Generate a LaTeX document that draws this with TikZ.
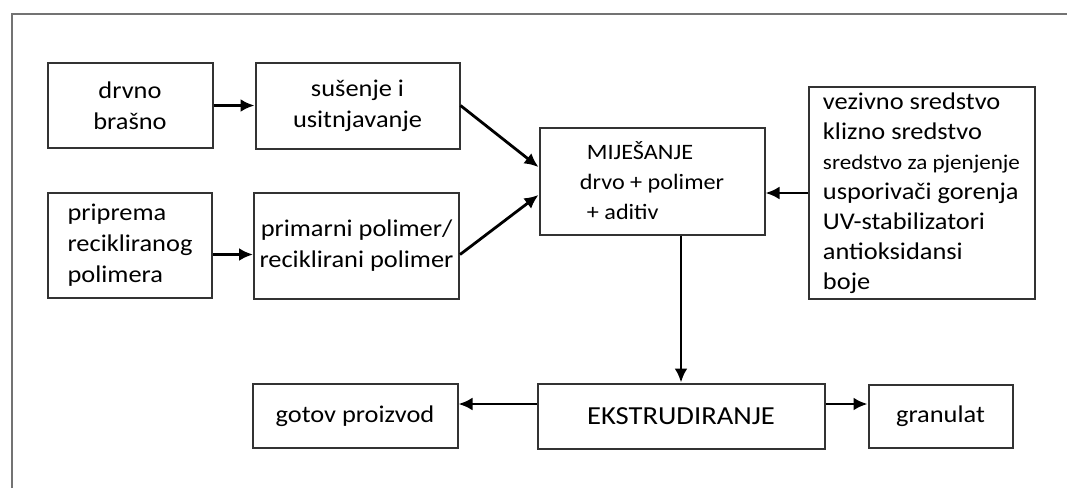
\documentclass[tikz,border=0pt]{standalone}
\usepackage{fontspec}
\setmainfont{Carlito}[FakeStretch=1.1]
\usetikzlibrary{positioning}
\usetikzlibrary{arrows.meta}

\begin{document}
\begin{tikzpicture}[
		% Styles for boxes and connectors
		block/.style={draw=black!80, line width=1pt, inner sep=3pt, font=\fontsize{12}{15.5}\selectfont},
		arrow/.style={-{Latex[length=7pt,width=6.5pt]}, line width=1.4pt},
		frame/.style={draw=black!55, line width=1pt},
		node distance=20.5pt,
		]
		\useasboundingbox (0,0) rectangle (533.5pt,-244pt);
		\draw[frame] (6pt,-244pt) |- (533.5pt,-7pt);

		% Inputs (left side)
		\node[block, minimum width=82.5pt, minimum height=42.5pt, align=center] (drvno) at (65pt,-52.75pt) {drvno\\brašno};
		\node[block, minimum width=102pt, minimum height=43pt, align=center, right=of drvno] (susenje) {sušenje i\\usitnjavanje};
		\node[block, minimum width=82pt, minimum height=52.5pt, align=left, below=21.5pt of drvno] (priprema) {priprema\\recikliranog\\polimera};
		\node[block, minimum width=102.5pt, minimum height=53pt, align=center, inner sep=1pt, right=20pt of priprema] (polimer) {primarni polimer/\\reciklirani polimer};

		% Mixing and additives
		\node[block, minimum width=112.5pt, minimum height=53.5pt, align=left, font=\fontsize{11}{15}\selectfont, below right=32.5pt and 39pt of susenje.north east] (mix) {\hspace{3.5pt}MIJEŠANJE\\drvo + polimer\\\hspace{3.5pt}+ aditiv};
		\node[block, minimum width=113pt, minimum height=105.5pt, align=left, font=\fontsize{12}{15}\selectfont, right=21pt of mix, yshift=-6pt] (aditivi) {vezivno sredstvo\\klizno sredstvo\\{\fontsize{10.5}{15}\selectfont sredstvo za pjenjenje}\\usporivači gorenja\\UV-stabilizatori\\antioksidansi\\boje};

		% Extrusion and outputs
		\node[block, minimum width=143.5pt, minimum height=32.5pt, font=\fontsize{13}{15}\selectfont, below right=73.5pt and -1pt of mix.south west] (ekstr) {EKSTRUDIRANJE};
		\node[block, minimum width=102.5pt, minimum height=32pt, left=39pt of ekstr] (gotov) {gotov proizvod};
		\node[block, minimum width=72pt, minimum height=31.5pt, right=21pt of ekstr] (granulat) {granulat};

		% Flow arrows
		\draw[arrow] (drvno) -- (susenje);
		\draw[arrow] ([yshift=-4.5pt]priprema.east) -- ([yshift=-4.5pt]polimer.west);
		\draw[arrow] (susenje.east) -- (mix.173);
		\draw[arrow] (polimer.355) -- (mix.187);
		\draw[arrow] (aditivi.west) -- (aditivi.west -| mix.east);
		\draw[arrow] (ekstr.north |- mix.south) -- (ekstr.north);
		\draw[arrow] ([yshift=6pt]ekstr.west) -- ([yshift=6pt]ekstr.west -| gotov.east);
		\draw[arrow] ([yshift=6pt]ekstr.east) -- ([yshift=6pt]ekstr.east -| granulat.west);

	\end{tikzpicture}
\end{document}
